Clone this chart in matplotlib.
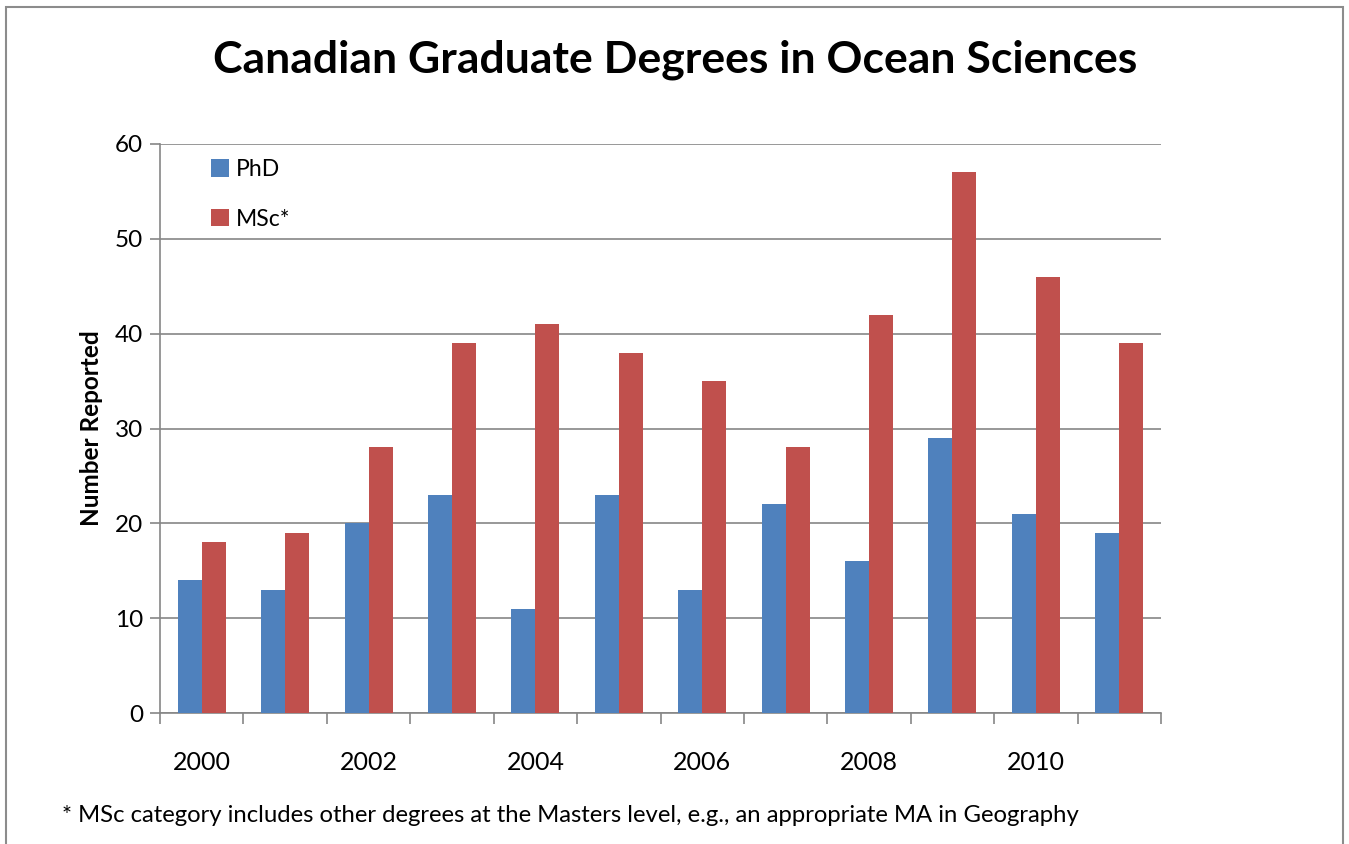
import numpy as np
import matplotlib
matplotlib.use('Agg')
import matplotlib.pyplot as plt
from matplotlib.patches import Rectangle

years = list(range(2000, 2012))
phd = [14, 13, 20, 23, 11, 23, 13, 22, 16, 29, 21, 19]
msc = [18, 19, 28, 39, 41, 38, 35, 28, 42, 57, 46, 39]
year_labels = [str(y) if y % 2 == 0 else '' for y in years]

BLUE = '#4F81BD'
RED = '#C0504D'
GRID = '#868686'

plt.rcParams['font.family'] = ['Lato', 'DejaVu Sans']

W, H = 1349, 844
fig = plt.figure(figsize=(W / 100, H / 100), dpi=100)

# outer chart frame
fig.patches.append(Rectangle((6 / W, -0.01), (1343 - 6) / W, 1 - 7 / H + 0.01,
                             transform=fig.transFigure, fill=False,
                             edgecolor='#8c8c8c', linewidth=1.5))

ax = fig.add_axes([160 / W, 1 - 713 / H, (1161 - 160) / W, (713 - 144) / H])

x = np.arange(len(years))
bw = 0.288
ax.bar(x - bw / 2, phd, bw, color=BLUE, label='PhD', zorder=3)
ax.bar(x + bw / 2, msc, bw, color=RED, label='MSc*', zorder=3)

ax.set_xlim(-0.5, len(years) - 0.5)
ax.set_ylim(0, 60)
ax.set_yticks(range(0, 61, 10))
ax.yaxis.grid(True, color=GRID, linewidth=1.2, zorder=0)
ax.tick_params(axis='y', length=7, width=1.2, color=GRID, labelsize=17.5, pad=5)

# category ticks between groups, labels at group centers
ax.set_xticks(np.arange(-0.5, len(years)), minor=False)
ax.set_xticklabels([])
ax.set_xticks(x, minor=True)
ax.set_xticklabels(year_labels, minor=True)
ax.tick_params(axis='x', which='major', length=8, width=1.2, color=GRID)
ax.tick_params(axis='x', which='minor', length=0, labelsize=18, pad=27)

for side in ['top', 'right']:
    ax.spines[side].set_visible(False)
for side in ['left', 'bottom']:
    ax.spines[side].set_color(GRID)
    ax.spines[side].set_linewidth(1.2)

ax.set_ylabel('Number Reported', fontsize=17.5, fontweight='bold', labelpad=9)

ax.legend(loc='upper left', bbox_to_anchor=(0.03, 1.01), frameon=False,
          fontsize=16.5, handlelength=0.8, handleheight=0.8, handletextpad=0.3,
          labelspacing=1.25)

fig.text(675 / W, 1 - 60 / H, 'Canadian Graduate Degrees in Ocean Sciences',
         ha='center', va='center', fontsize=32, fontweight='bold')
fig.text(62 / W, 1 - 816 / H,
         '* MSc category includes other degrees at the Masters level, e.g., '
         'an appropriate MA in Geography',
         ha='left', va='center', fontsize=17.2)

fig.savefig('out.png', dpi=100, facecolor='white')
